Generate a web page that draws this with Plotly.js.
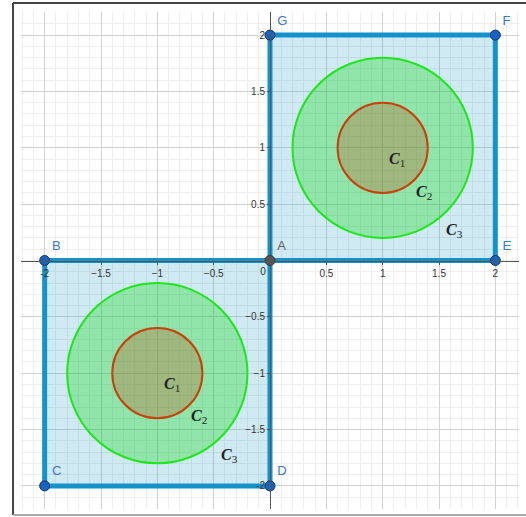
<!DOCTYPE html>
<html><head><meta charset="utf-8">
<script src="https://cdn.plot.ly/plotly-3.0.1.min.js"></script>
<style>html,body{margin:0;padding:0;background:#fff}#chart{width:526px;height:517px}</style>
</head><body><div id="chart"></div>
<script>
// Points
const pointNames = ['A','B','C','D','E','F','G'];
const pointX = [0, -2, -2, 0, 2, 2, 0];
const pointY = [0, 0, -2, -2, 0, 2, 2];
// Squares (vertex order)
const squareUpperX = [0, 2, 2, 0, 0];
const squareUpperY = [0, 0, 2, 2, 0];
const squareLowerX = [0, -2, -2, 0, 0];
const squareLowerY = [0, 0, -2, -2, 0];
// Circles: centres and radii
const circleCentersX = [1, -1];
const circleCentersY = [1, -1];
const radiusC2 = 0.4;
const radiusC3 = 0.8;
// Circle label positions
const labelText = ['C1','C2','C3','C1','C2','C3'];
const labelX = [1.13, 1.37, 1.64, -0.87, -0.63, -0.36];
const labelY = [0.90, 0.60, 0.27, -1.10, -1.38, -1.73];
// Tick labels
const xTickVals = [-2, -1.5, -1, -0.5, 0.5, 1, 1.5, 2];
const xTickText = ['-2','\u22121.5','\u22121','\u22120.5','0.5','1','1.5','2'];
const originTickVals = [0];
const originTickText = ['0'];
const yTickVals = [-2, -1.5, -1, -0.5, 0.5, 1, 1.5, 2];
const yTickText = ['-2','\u22121.5','\u22121','\u22120.5','0.5','1','1.5','2'];

const blueLine = '#1592c9';
const blueFill = 'rgba(20,150,200,0.2)';

const traces = [
  {x: squareUpperX, y: squareUpperY, mode: 'lines', fill: 'toself', fillcolor: blueFill,
   line: {color: blueLine, width: 5}, hoverinfo: 'skip', showlegend: false},
  {x: squareLowerX, y: squareLowerY, mode: 'lines', fill: 'toself', fillcolor: blueFill,
   line: {color: blueLine, width: 5}, hoverinfo: 'skip', showlegend: false},
  {x: pointX, y: pointY, xaxis: 'x2', mode: 'markers+text', text: pointNames, textposition: 'top right',
   textfont: {family: 'Liberation Sans, Arial, sans-serif', size: 13,
     color: pointNames.map(n => n === 'A' ? '#606060' : '#3a78c9')},
   marker: {size: 10, color: pointNames.map(n => n === 'A' ? '#555555' : '#1565c0'),
     line: {width: 1, color: pointNames.map(n => n === 'A' ? '#333' : '#17306b')}},
   cliponaxis: false, showlegend: false, hoverinfo: 'skip'}
];

const shapes = [];
for (let i = 0; i < circleCentersX.length; i++) {
  const cx = circleCentersX[i], cy = circleCentersY[i];
  shapes.push({type: 'circle', xref: 'x', yref: 'y', layer: 'above',
    x0: cx - radiusC3, x1: cx + radiusC3, y0: cy - radiusC3, y1: cy + radiusC3,
    fillcolor: 'rgba(0,220,0,0.3)', line: {color: '#1ee61a', width: 2}});
  shapes.push({type: 'circle', xref: 'x', yref: 'y', layer: 'above',
    x0: cx - radiusC2, x1: cx + radiusC2, y0: cy - radiusC2, y1: cy + radiusC2,
    fillcolor: 'rgba(204,51,0,0.25)', line: {color: '#c8400c', width: 2}});
}
// frame
shapes.push({type: 'line', xref: 'paper', yref: 'paper', x0: -0.016, x1: -0.016, y0: -0.012, y1: 1.018, line: {color: '#444', width: 2}, layer: 'above'});
shapes.push({type: 'line', xref: 'paper', yref: 'paper', x0: -0.016, x1: 1.05, y0: 1.018, y1: 1.018, line: {color: '#444', width: 2}, layer: 'above'});
shapes.push({type: 'line', xref: 'paper', yref: 'paper', x0: -0.016, x1: 1.05, y0: -0.012, y1: -0.012, line: {color: '#aaa', width: 2}, layer: 'above'});

const annotations = labelText.map((t, i) => ({
  x: labelX[i], y: labelY[i], xref: 'x', yref: 'y', showarrow: false,
  text: '<b><i>' + t[0] + '</i></b><sub>' + t[1] + '</sub>',
  font: {family: 'Liberation Serif, DejaVu Serif, serif', size: 16, color: '#222'}
}));

const tickFont = {family: 'Liberation Sans, Arial, sans-serif', size: 10, color: '#333'};
const xRange = [-2.21, 2.21];

const layout = {
  width: 526, height: 517,
  margin: {l: 21, r: 7, t: 12, b: 8, pad: 0},
  paper_bgcolor: '#fff', plot_bgcolor: '#fff',
  showlegend: false,
  xaxis: {range: xRange, anchor: 'free', position: 0.5, showline: true, linecolor: '#555', linewidth: 1,
    zeroline: false, tickmode: 'array', tickvals: xTickVals, ticktext: xTickText,
    ticks: 'outside', ticklen: 3, tickcolor: '#555', tickfont: tickFont,
    showgrid: true, gridcolor: '#d2d2d2', gridwidth: 1,
    minor: {dtick: 0.1, tick0: 0, showgrid: true, gridcolor: '#eeeeee', ticks: ''},
    fixedrange: true},
  xaxis2: {range: xRange, overlaying: 'x', anchor: 'free', position: 0.5, side: 'bottom',
    showline: false, zeroline: false, showgrid: false, tickmode: 'array',
    tickvals: originTickVals, ticktext: originTickText, ticks: '', ticklabelshift: -7,
    ticklabelstandoff: 3, tickfont: tickFont, fixedrange: true},
  yaxis: {range: [-2.205, 2.205], anchor: 'free', position: 0.5, showline: true, linecolor: '#555', linewidth: 1,
    zeroline: false, tickmode: 'array', tickvals: yTickVals, ticktext: yTickText,
    ticks: 'outside', ticklen: 3, tickcolor: '#555', tickfont: tickFont,
    showgrid: true, gridcolor: '#d2d2d2', gridwidth: 1,
    minor: {dtick: 0.1, tick0: 0, showgrid: true, gridcolor: '#eeeeee', ticks: ''},
    fixedrange: true},
  shapes: shapes,
  annotations: annotations
};

Plotly.newPlot('chart', traces, layout, {staticPlot: true, displayModeBar: false});
</script>
</body></html>
